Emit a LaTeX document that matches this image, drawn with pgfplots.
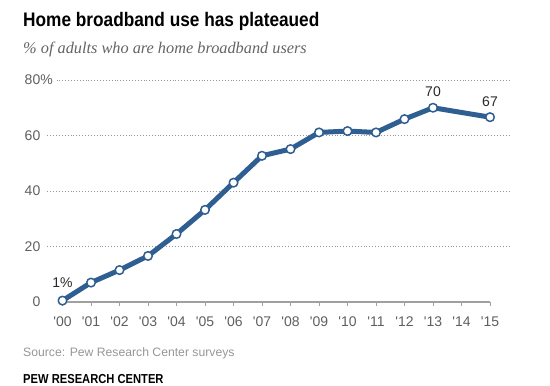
\documentclass[border=0pt]{standalone}
\usepackage{pgfplots}
\pgfplotsset{compat=1.18}
\usepackage{fontspec}
\setmainfont{Liberation Sans}
\newfontfamily\sansf{Liberation Sans}
\newfontfamily\titlef{Liberation Sans}[FakeStretch=0.88]
\newfontfamily\pewf{Liberation Sans}[FakeStretch=0.86]
\newfontfamily\subf{Liberation Serif}
\definecolor{pewblue}{RGB}{46,94,146}
\definecolor{tickgray}{RGB}{95,95,95}
\definecolor{subgray}{RGB}{100,100,100}
\definecolor{srcgray}{RGB}{150,150,150}
\definecolor{axisgray}{RGB}{160,160,160}
\definecolor{gridgray}{RGB}{150,150,150}
\definecolor{labgray}{RGB}{40,40,40}
\begin{document}
\begin{tikzpicture}[x=1bp,y=1bp]
\path (0,0) rectangle (550,385);
\node[anchor=base west, inner sep=0pt, text=black] at (23,359) {\titlef\bfseries\fontsize{19.6bp}{20bp}\selectfont Home broadband use has plateaued};
\node[anchor=base west, inner sep=0pt, text=subgray] at (23,332) {\subf\itshape\fontsize{16.3bp}{18bp}\selectfont \% of adults who are home broadband users};
\node[anchor=base west, inner sep=0pt, text=srcgray] at (23,29) {\sansf\fontsize{12.2bp}{14bp}\selectfont Source: Pew Research Center surveys};
\node[anchor=base west, inner sep=0pt, text=black] at (23,2) {\pewf\bfseries\fontsize{13bp}{14bp}\selectfont PEW RESEARCH CENTER};
\begin{axis}[
  at={(62.5bp,83bp)}, anchor=south west, scale only axis,
  width=427.5bp, height=222bp,
  xmin=0, xmax=15, ymin=0, ymax=80, clip=false,
  axis x line=bottom, axis y line=left,
  axis line style={-},
  x axis line style={draw=axisgray, line width=1.2bp},
  y axis line style={draw=none},
  xtick={0,...,15},
  xticklabels={'00,'01,'02,'03,'04,'05,'06,'07,'08,'09,'10,'11,'12,'13,'14,'15},
  ytick={0,20,40,60,80},
  yticklabels={0,20,40,60,80\rlap{\%}},
  tick align=outside, major tick length=4bp,
  xtick style={draw=axisgray, line width=0.8bp},
  ytick style={draw=none},
  ticklabel style={font=\sansf\fontsize{14bp}{14bp}\selectfont, text=tickgray, inner sep=0pt},
  xticklabel style={anchor=base, yshift=-20bp},
  yticklabel style={anchor=east, xshift=-18bp},
]
\foreach \yy/\xs in {20/-0.53,40/-0.53,60/-0.53,80/-0.21}{
  \edef\tmp{\noexpand\draw[gridgray, line width=0.9bp, dash pattern=on 0.9bp off 2bp] (axis cs:\xs,\yy) -- (axis cs:15.75,\yy);}
  \tmp
}
\addplot[pewblue, line width=5bp, line join=round, mark=*, mark size=4.3bp,
  mark options={fill=white, draw=pewblue, line width=1.5bp}]
  coordinates {
  (0,0.5) (1,7) (2,11.5) (3,16.6) (4,24.5) (5,33.2) (6,43) (7,52.7)
  (8,55.1) (9,61.1) (10,61.6) (11,61.1) (12,65.9) (13,70) (15,66.6)
  };
\node[inner sep=0pt, text=labgray, font=\sansf\fontsize{14bp}{14bp}\selectfont, yshift=18bp] at (axis cs:0,0.5) {1\%};
\node[inner sep=0pt, text=labgray, font=\sansf\fontsize{14bp}{14bp}\selectfont, yshift=16bp] at (axis cs:13,70) {70};
\node[inner sep=0pt, text=labgray, font=\sansf\fontsize{14bp}{14bp}\selectfont, yshift=15.7bp] at (axis cs:15,66.6) {67};
\end{axis}
\end{tikzpicture}
\end{document}
